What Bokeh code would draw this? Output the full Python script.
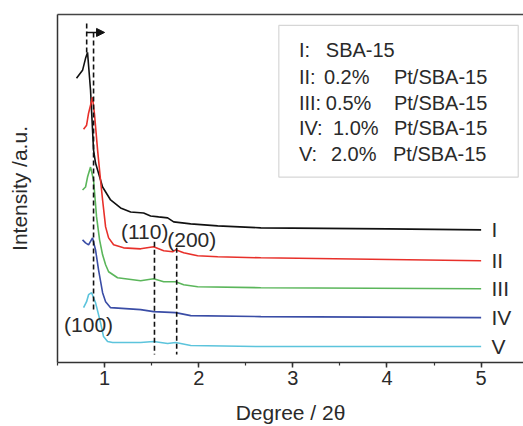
from bokeh.plotting import figure
from bokeh.models import LinearAxis, SingleIntervalTicker, FixedTicker, Arrow, NormalHead, BoxAnnotation
from bokeh.embed import file_html
from bokeh.resources import INLINE
from bokeh.core.properties import value

# ---- data (degree 2theta, intensity a.u.) ----
x_I = [0.702, 0.766, 0.798, 0.819, 0.851, 0.883, 0.904, 0.926, 0.979, 1.064, 1.170, 1.277, 1.415, 1.489, 1.574, 1.670, 1.734, 1.915, 2.202, 2.66, 4.0, 5.0]
y_I = [285, 293, 305, 311, 273, 213, 200, 193, 176, 163, 155, 151, 150, 147, 146, 145, 141, 139, 137, 135, 134, 133]

x_II = [0.777, 0.809, 0.830, 0.872, 0.894, 0.926, 0.957, 0.979, 1.011, 1.043, 1.096, 1.202, 1.383, 1.521, 1.628, 1.723, 1.755, 1.840, 1.989, 2.202, 2.66, 5.0]
y_II = [234, 238, 250, 266, 248, 213, 183, 163, 136, 125, 118, 115, 114, 116, 112, 111, 113, 110, 107, 106, 105, 102]

x_III = [0.766, 0.798, 0.819, 0.851, 0.883, 0.915, 0.947, 0.979, 1.011, 1.043, 1.138, 1.383, 1.521, 1.628, 1.755, 1.840, 1.989, 2.66, 5.0]
y_III = [173, 176, 186, 196, 183, 146, 123, 108, 98, 91, 85, 82, 84, 81, 81, 78, 76, 75, 74]

x_IV = [0.766, 0.798, 0.830, 0.872, 0.904, 0.936, 0.979, 1.011, 1.064, 1.383, 1.521, 1.755, 1.915, 2.66, 5.0]
y_IV = [123, 120, 118, 125, 113, 93, 70, 61, 55, 53, 51, 50, 47, 46, 45]

x_V = [0.777, 0.809, 0.830, 0.862, 0.904, 0.957, 0.989, 1.032, 1.085, 1.383, 1.521, 1.670, 1.755, 1.915, 2.66, 5.0]
y_V = [55, 61, 68, 70, 60, 40, 26, 21, 20, 20, 21, 19, 20, 17, 16, 16]

series_x = [x_I, x_II, x_III, x_IV, x_V]
series_y = [y_I, y_II, y_III, y_IV, y_V]
colors = ["#111111", "#e8302a", "#5bb65b", "#3a4da6", "#5cc4dc"]
roman = ["I", "II", "III", "IV", "V"]

leg_tags = ["I:", "II:", "III:", "IV:", "V:"]
leg_load = ["", "0.2%", "0.5%", "1.0%", "2.0%"]
leg_name = ["SBA-15", "Pt/SBA-15", "Pt/SBA-15", "Pt/SBA-15", "Pt/SBA-15"]

FONT = "Liberation Sans"
TXT = "#2a2a2a"
AX = "#333333"

p = figure(width=523, height=426, x_range=(0.5, 5.45), y_range=(0, 349),
           output_backend="svg", toolbar_location=None,
           min_border_left=57, min_border_right=0, min_border_top=14, min_border_bottom=63)
p.outline_line_color = None
p.xgrid.visible = False
p.ygrid.visible = False
p.background_fill_color = "white"
p.border_fill_color = "white"

xa = p.xaxis[0]
xa.ticker = SingleIntervalTicker(interval=1, num_minor_ticks=2)
xa.axis_line_color = AX
xa.axis_line_width = 1.5
xa.major_tick_line_color = AX
xa.major_tick_line_width = 1.5
xa.major_tick_out = 5
xa.major_tick_in = 0
xa.minor_tick_line_color = AX
xa.minor_tick_line_width = 1.2
xa.minor_tick_out = 3
xa.minor_tick_in = 0
xa.major_label_text_font = FONT
xa.major_label_text_font_size = "20px"
xa.major_label_text_color = TXT
xa.major_label_standoff = 3
xa.axis_label = "Degree / 2\u03b8"
xa.axis_label_text_font = FONT
xa.axis_label_text_font_size = "21px"
xa.axis_label_text_font_style = "normal"
xa.axis_label_text_color = TXT
xa.axis_label_standoff = 13

ya = p.yaxis[0]
ya.ticker = FixedTicker(ticks=[])
ya.axis_line_color = AX
ya.axis_line_width = 1.5
ya.major_tick_line_color = None
ya.minor_tick_line_color = None
ya.axis_label = "Intensity /a.u."
ya.axis_label_text_font = FONT
ya.axis_label_text_font_size = "21px"
ya.axis_label_text_font_style = "normal"
ya.axis_label_text_color = TXT
ya.axis_label_standoff = 27

top = LinearAxis(ticker=FixedTicker(ticks=[]), axis_line_color="#444444", axis_line_width=1.5,
                 major_tick_line_color=None, minor_tick_line_color=None,
                 major_label_text_font_size="0px")
p.add_layout(top, "above")

# curves
for xs, ys, c in zip(series_x, series_y, colors):
    p.line(xs, ys, line_color=c, line_width=1.6)

# curve labels
p.text(x=[5.11] * 5, y=[ys[-1] for ys in series_y], text=roman,
       text_font=value(FONT), text_font_size="21px", text_color=TXT,
       text_align="left", text_baseline="middle")

# dashed guide lines
p.segment(x0=[0.81, 0.883, 1.53, 1.766], y0=[340, 331, 121, 115],
          x1=[0.81, 0.883, 1.53, 1.766], y1=[310, 53, 8, 8],
          line_color="#111111", line_width=1.6, line_dash="5 3")

p.add_layout(Arrow(end=NormalHead(size=8, fill_color="#111111", line_color="#111111"),
                   x_start=0.81, y_start=331, x_end=1.0, y_end=331,
                   line_color="#111111", line_width=1.5))

# hkl labels
p.text(x=[1.426, 1.926, 0.83], y=[131, 123, 38], text=["(110)", "(200)", "(100)"],
       text_font=value(FONT), text_font_size="21px", text_color=TXT,
       text_align="center", text_baseline="middle")

# legend box
p.add_layout(BoxAnnotation(left=2.851, right=5.394, bottom=186, top=338,
                           fill_color=None, line_color="#777777", line_width=1.2))
leg_y = [313, 286, 260, 235, 209]
p.text(x=[3.064] * 5, y=leg_y, text=leg_tags,
       text_font=value(FONT), text_font_size="20px", text_color=TXT,
       text_align="left", text_baseline="middle")
p.text(x=[3.35, 3.33, 3.35, 3.426, 3.404], y=leg_y, text=[leg_name[0]] + leg_load[1:],
       text_font=value(FONT), text_font_size="20px", text_color=TXT,
       text_align="left", text_baseline="middle")
p.text(x=[4.074, 4.074, 4.074, 4.064], y=leg_y[1:], text=leg_name[1:],
       text_font=value(FONT), text_font_size="20px", text_color=TXT,
       text_align="left", text_baseline="middle")

open("out.html", "w").write(file_html(p, INLINE))
